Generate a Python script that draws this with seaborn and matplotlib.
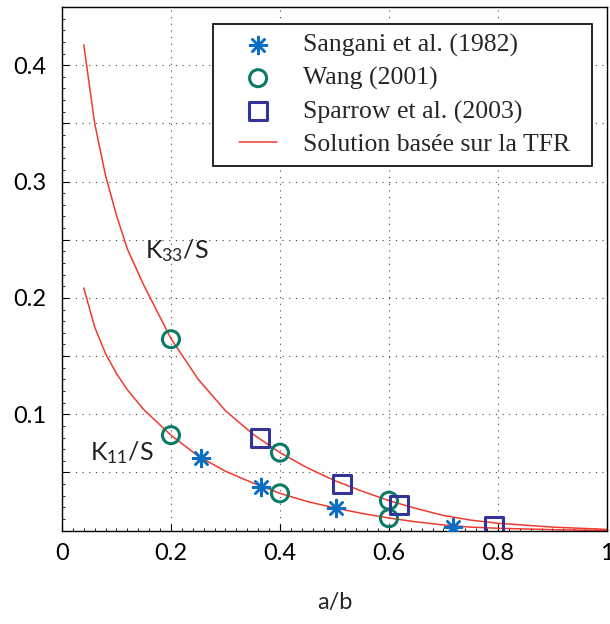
import numpy as np
import pandas as pd
import seaborn as sns
from matplotlib import pyplot as plt
from matplotlib.patches import Rectangle
from matplotlib.ticker import MultipleLocator, FixedLocator, FixedFormatter

curve_x = [0.04, 0.06, 0.08, 0.10, 0.12, 0.15, 0.20, 0.25, 0.30, 0.35,
           0.40, 0.45, 0.50, 0.55, 0.60, 0.65, 0.70, 0.75, 0.80, 0.90, 1.00]
k33_curve = [0.4175, 0.350, 0.305, 0.271, 0.242, 0.211, 0.165, 0.130, 0.103, 0.083,
             0.067, 0.054, 0.043, 0.034, 0.0257, 0.019, 0.013, 0.009, 0.0063, 0.003, 0.001]
k11_curve = [0.2085, 0.175, 0.152, 0.135, 0.121, 0.104, 0.082, 0.064, 0.051, 0.041,
             0.032, 0.025, 0.0195, 0.0148, 0.0108, 0.0075, 0.0048, 0.003, 0.002, 0.0008, 0.0]

# reference data
sangani_x = [0.256, 0.366, 0.503, 0.718]
sangani_y = [0.0622, 0.0378, 0.0192, 0.0034]
wang_x = [0.2, 0.2, 0.4, 0.4, 0.6, 0.6]
wang_y = [0.1645, 0.082, 0.067, 0.032, 0.0257, 0.0106]
sparrow_x = [0.363, 0.514, 0.619, 0.793]
sparrow_y = [0.0794, 0.0398, 0.022, 0.0042]

RED = "#f03a2e"
BLUE = "#0a6fc2"
TEAL = "#0b7a66"
NAVY = "#33349a"

sns.set_theme(style="white")
plt.rcParams["font.family"] = ["Lato", "DejaVu Sans"]
plt.rcParams["mathtext.default"] = "regular"

fig = plt.figure(figsize=(6.10, 6.24), dpi=100)
ax = fig.add_axes([0.1016, 0.1497, 0.8934, 0.8391])

df_curves = pd.DataFrame({"x": curve_x, "k33": k33_curve, "k11": k11_curve})
sns.lineplot(data=df_curves, x="x", y="k33", color=RED, lw=1.1, sort=False, ax=ax,
             label="Solution basée sur la TFR")
sns.lineplot(data=df_curves, x="x", y="k11", color=RED, lw=1.1, sort=False, ax=ax)

sns.scatterplot(x=sangani_x, y=sangani_y, marker=(8, 2, 0), s=150, color=BLUE,
                linewidth=1.8, ax=ax, label="Sangani et al. (1982)", zorder=3)
sns.scatterplot(x=wang_x, y=wang_y, marker="o", s=150, facecolor="none",
                edgecolor=TEAL, linewidth=2.2, ax=ax, label="Wang (2001)", zorder=3)
sns.scatterplot(x=sparrow_x, y=sparrow_y, marker="s", s=170, facecolor="none",
                edgecolor=NAVY, linewidth=2.2, ax=ax, label="Sparrow et al. (2003)", zorder=3)

ax.set_xlim(0, 1)
ax.set_ylim(0, 0.45)

ax.xaxis.set_major_locator(FixedLocator([0, 0.2, 0.4, 0.6, 0.8, 1.0]))
ax.xaxis.set_major_formatter(FixedFormatter(["0", "0.2", "0.4", "0.6", "0.8", "1"]))
ax.xaxis.set_minor_locator(MultipleLocator(0.02))
y_ticks = [0.05, 0.1, 0.15, 0.2, 0.25, 0.3, 0.35, 0.4]
ax.yaxis.set_major_locator(FixedLocator(y_ticks))
ax.yaxis.set_major_formatter(FixedFormatter(["", "0.1", "", "0.2", "", "0.3", "", "0.4"]))
ax.yaxis.set_minor_locator(MultipleLocator(0.01))

ax.tick_params(which="both", direction="in", left=True, bottom=True, colors="black",
               labelsize=17)
ax.tick_params(which="major", length=5, width=0.8)
ax.tick_params(which="minor", length=2.5, width=0.6)
ax.tick_params(axis="x", pad=9)
ax.tick_params(axis="y", pad=11)

ax.grid(True, which="major", color="#444444", linestyle=(0, (1, 5)), linewidth=0.8)

for side in ["left", "bottom", "top", "right"]:
    ax.spines[side].set_color("black")
    ax.spines[side].set_linewidth(1.0)

ax.set_xlabel("a/b", fontsize=17, labelpad=20)
ax.set_ylabel("")

ax.text(0.153, 0.241, "K$_{33}$/S", fontsize=18, va="center", ha="left", color="#222222")
ax.text(0.051, 0.067, "K$_{11}$/S", fontsize=18, va="center", ha="left", color="#222222")

handles, labels = ax.get_legend_handles_labels()
order = ["Sangani et al. (1982)", "Wang (2001)", "Sparrow et al. (2003)",
         "Solution basée sur la TFR"]
hmap = dict(zip(labels, handles))

# legend content without frame; a wider frame is drawn around it afterwards
pad_left, pad_right = 16, 12
ax_w = ax.get_window_extent().width
leg = ax.legend([hmap[k] for k in order], order, loc="upper right",
                bbox_to_anchor=(0.9725 - pad_right / ax_w, 0.9675), frameon=False,
                prop={"family": "Liberation Serif", "size": 18.5},
                handlelength=1.5, borderpad=0.38, labelspacing=0.38, handletextpad=1.0,
                borderaxespad=0)

fig.canvas.draw()
bb = leg.get_window_extent(fig.canvas.get_renderer())
inv = fig.transFigure.inverted()
(x0, y0), (x1, y1) = inv.transform([(bb.x0 - pad_left, bb.y0), (bb.x1 + pad_right, bb.y1)])
frame = Rectangle((x0, y0), x1 - x0, y1 - y0, transform=fig.transFigure,
                  facecolor="white", edgecolor="black", linewidth=1.2, zorder=4)
fig.add_artist(frame)
leg.set_zorder(5)
leg.remove()
fig.add_artist(leg)

fig.savefig("out.png", dpi=100)
